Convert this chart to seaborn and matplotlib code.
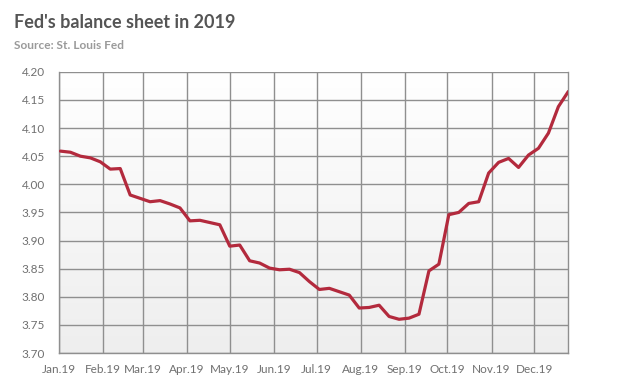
import numpy as np
import pandas as pd
import matplotlib
matplotlib.use("Agg")
import matplotlib.pyplot as plt
import matplotlib.dates as mdates
import seaborn as sns

# weekly values (Wednesdays), trillions of dollars
start_date = "2019-01-02"
balance = [
    4.059, 4.057, 4.050, 4.047, 4.040,
    4.027, 4.028, 3.981, 3.975,
    3.969, 3.971, 3.965, 3.958,
    3.935, 3.936, 3.932, 3.928,
    3.890, 3.892, 3.864, 3.860, 3.851,
    3.848, 3.849, 3.843, 3.827,
    3.813, 3.815, 3.809, 3.803, 3.780,
    3.781, 3.785, 3.765, 3.760,
    3.762, 3.769, 3.846, 3.858,
    3.946, 3.950, 3.966, 3.969, 4.020,
    4.039, 4.046, 4.030, 4.052,
    4.064, 4.091, 4.138, 4.165,
]
y_ticks = [3.70, 3.75, 3.80, 3.85, 3.90, 3.95, 4.00, 4.05, 4.10, 4.15, 4.20]

df = pd.DataFrame({
    "date": pd.date_range(start_date, periods=len(balance), freq="7D"),
    "value": balance,
})

sns.set_style("white")
plt.rcParams["font.family"] = ["Lato", "DejaVu Sans"]

fig = plt.figure(figsize=(6.35, 3.8), dpi=100)
ax = fig.add_axes([0.093, 0.071, 0.802, 0.74])

grid_col = "#8f8f8f"
x0 = mdates.date2num(pd.Timestamp("2019-01-01"))
x1 = mdates.date2num(pd.Timestamp("2019-12-25"))

# gradient background: light grey at top to white at bottom
grad = np.linspace(0, 1, 256).reshape(-1, 1)
cmap = matplotlib.colors.LinearSegmentedColormap.from_list("bg", ["#eeeeee", "#ffffff"])
ax.imshow(grad, extent=[x0, x1, 4.20, 3.70], aspect="auto", cmap=cmap, zorder=0)

sns.lineplot(data=df, x="date", y="value", ax=ax, color="#b32a3d", linewidth=2.3, zorder=3)

ax.set_xlim(x0, x1)
ax.set_ylim(3.70, 4.20)
ax.set_yticks(y_ticks)
ax.yaxis.set_major_formatter(matplotlib.ticker.FormatStrFormatter("%.2f"))
ax.xaxis.set_major_locator(mdates.MonthLocator())
ax.xaxis.set_major_formatter(mdates.DateFormatter("%b.%y"))

ax.grid(True, color=grid_col, linewidth=1.0, zorder=1)
ax.set_axisbelow(True)
for s in ax.spines.values():
    s.set_color(grid_col)
    s.set_linewidth(1.0)
ax.spines["top"].set_visible(False)

ax.tick_params(axis="both", colors=grid_col, length=4, width=1.0,
               labelcolor="#707070", labelsize=8.5, direction="out")
ax.tick_params(axis="y", pad=6)
ax.tick_params(axis="x", pad=4)
ax.set_xlabel("")
ax.set_ylabel("")

fig.text(0.022, 0.925, "Fed's balance sheet in 2019", fontsize=13, fontweight="bold",
         color="#555555")
fig.text(0.022, 0.872, "Source: St. Louis Fed", fontsize=8.6, fontweight="bold",
         color="#9a9a9a")

fig.savefig("out.png", dpi=100, facecolor="white")
